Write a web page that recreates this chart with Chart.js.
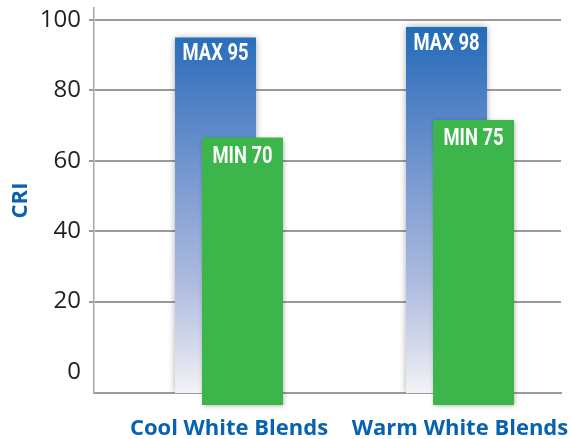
<!DOCTYPE html>
<html><head><meta charset="utf-8">
<script src="https://cdn.jsdelivr.net/npm/chart.js@4/dist/chart.umd.min.js"></script>
<style>html,body{margin:0;padding:0;background:#fff;}canvas{display:block}</style>
</head><body>
<canvas id="c" width="573" height="439"></canvas>
<script>
// ---- data ----
const categories = ['Cool White Blends', 'Warm White Blends'];
const maxValues = [95, 98];
const minValues = [70, 75];
const maxPrefix = 'MAX';
const minPrefix = 'MIN';
const yTickValues = [0, 20, 40, 60, 80, 100];
const yTitle = 'CRI';

// ---- styling / layout constants ----
const BLUE_TEXT = '#0862b0';
const GREEN = '#3cb54a';
const GRID = '#9b9b9d';
const Y_MIN = -6, Y_MAX = 103.4;
const GREEN_SHIFT = 3.41; // green bars drawn slightly lower (3D offset)

function blueGradient(context) {
  const chart = context.chart;
  const area = chart.chartArea;
  if (!area) return '#5a86c8';
  const g = chart.ctx.createLinearGradient(0, area.top + 12, 0, area.bottom);
  g.addColorStop(0, '#1d6bb8');
  g.addColorStop(0.11, '#3774be');
  g.addColorStop(0.43, '#7a9ad2');
  g.addColorStop(0.70, '#adbadf');
  g.addColorStop(0.86, '#d0d6ea');
  g.addColorStop(1, '#f3f3f6');
  return g;
}

function condensedText(ctx, text, x, y) {
  ctx.save();
  ctx.translate(x, y);
  ctx.scale(0.8, 1);
  ctx.fillText(text, 0, 0);
  ctx.restore();
}

const decor = {
  id: 'decor',
  beforeDatasetDraw(chart, args) {
    if (args.index === 1) return false;
    const ctx = chart.ctx;
    ctx.save();
    ctx.shadowColor = 'rgba(0,0,0,0.38)';
    ctx.shadowBlur = 7;
  },
  afterDatasetDraw(chart, args) {
    if (args.index === 0) chart.ctx.restore();
  },
  afterDatasetsDraw(chart) {
    const ctx = chart.ctx;
    ctx.save();
    ctx.shadowColor = 'rgba(0,0,0,0.32)';
    ctx.shadowBlur = 5;
    ctx.shadowOffsetX = 1;
    ctx.shadowOffsetY = 1;
    chart.getDatasetMeta(1).controller.draw();
    ctx.restore();

    ctx.save();
    ctx.fillStyle = '#ffffff';
    ctx.textAlign = 'center';
    ctx.textBaseline = 'middle';
    ctx.font = 'bold 23px Roboto, "DejaVu Sans", sans-serif';
    chart.getDatasetMeta(0).data.forEach((el, i) => {
      condensedText(ctx, maxPrefix + ' ' + maxValues[i], el.x, el.y + 17);
    });
    chart.getDatasetMeta(1).data.forEach((el, i) => {
      condensedText(ctx, minPrefix + ' ' + minValues[i], el.x, el.y + 19.5);
    });
    ctx.restore();
  }
};

new Chart(document.getElementById('c'), {
  type: 'bar',
  plugins: [decor],
  data: {
    datasets: [
      {
        label: maxPrefix,
        data: maxValues.map((v, i) => ({ x: i, y: v })),
        backgroundColor: blueGradient,
        borderWidth: 0,
        base: Y_MIN,
        yAxisID: 'y',
        categoryPercentage: 0.2338,
        barPercentage: 3
      },
      {
        label: minPrefix,
        data: minValues.map((v, i) => ({ x: i, y: v })),
        backgroundColor: GREEN,
        borderWidth: 0,
        base: Y_MIN,
        yAxisID: 'y2',
        clip: false,
        categoryPercentage: 0.2338,
        barPercentage: 3
      }
    ]
  },
  options: {
    responsive: false,
    animation: false,
    events: [],
    layout: { padding: { left: 0, right: 12, top: 8, bottom: 0 } },
    plugins: { legend: { display: false }, tooltip: { enabled: false } },
    scales: {
      x: {
        type: 'linear',
        offset: false,
        min: -0.5844,
        max: 1.4372,
        afterBuildTicks: (s) => { s.ticks = categories.map((_, i) => ({ value: i })); },
        afterFit: (s) => { s.height = 46; s.paddingLeft = 0; s.paddingRight = 0; },
        ticks: {
          autoSkip: false,
          maxRotation: 0,
          padding: 23,
          color: BLUE_TEXT,
          font: { family: 'Open Sans', size: 22, weight: 'bold' },
          callback: (v) => categories[Math.round(v)]
        },
        grid: { display: false, drawTicks: false },
        border: { display: true, color: GRID, width: 2 }
      },
      y: {
        type: 'linear',
        min: Y_MIN,
        max: Y_MAX,
        afterBuildTicks: (s) => { s.ticks = yTickValues.map(v => ({ value: v })); },
        afterFit: (s) => { s.width = 94; s.paddingTop = 0; s.paddingBottom = 0; },
        ticks: {
          padding: 8,
          color: '#231f20',
          font: { family: 'Open Sans', size: 24 }
        },
        grid: {
          color: (c) => (c.tick && c.tick.value === 0) ? 'rgba(0,0,0,0)' : GRID,
          lineWidth: 2,
          tickLength: 5,
          drawTicks: true
        },
        border: { display: true, color: '#a8a8aa', width: 1.5 },
        title: {
          display: true,
          text: yTitle,
          color: BLUE_TEXT,
          font: { family: 'Open Sans', size: 22, weight: 'bold' },
          padding: { top: 8, bottom: 0 }
        }
      },
      y2: {
        type: 'linear',
        display: false,
        min: Y_MIN + GREEN_SHIFT,
        max: Y_MAX + GREEN_SHIFT
      }
    }
  }
});
</script>
</body></html>
